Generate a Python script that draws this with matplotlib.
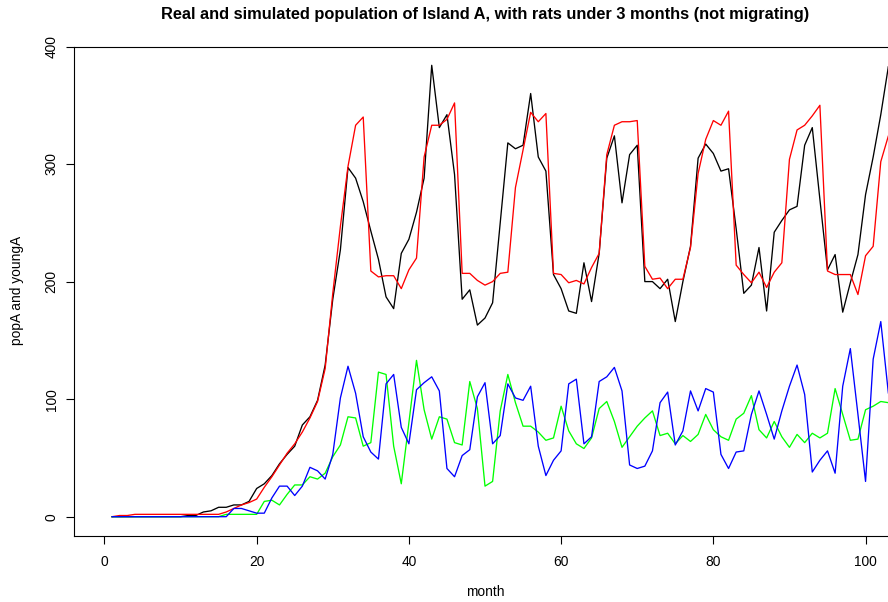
import matplotlib.pyplot as plt

plt.rcParams['font.family'] = ['Liberation Sans', 'DejaVu Sans']

# months 1..104
month = list(range(1, 105))

# real population (black)
popA = [0, 0, 0, 0, 0, 0, 0, 0, 0, 0,
        1, 1, 4, 5, 8, 8, 10, 10, 13, 24,
        28, 35, 45, 53, 60, 78, 85, 99, 129, 185,
        227, 297, 288, 268, 243, 219, 187, 177, 224, 236,
        259, 288, 384, 331, 342, 291, 185, 193, 163, 169,
        182, 250, 318, 313, 316, 360, 306, 294, 206, 194,
        175, 173, 216, 183, 224, 305, 324, 267, 308, 316,
        200, 200, 194, 202, 166, 200, 230, 305, 317, 309,
        294, 296, 245, 190, 197, 229, 175, 242, 252, 261,
        264, 316, 331, 270, 210, 223, 174, 199, 223, 274,
        306, 342, 383, 360]

# simulated population (red)
simA = [0, 1, 1, 2, 2, 2, 2, 2, 2, 2,
        2, 2, 2, 2, 2, 4, 7, 10, 12, 15,
        25, 34, 44, 54, 62, 72, 84, 98, 126, 190,
        247, 298, 333, 340, 209, 204, 205, 205, 194, 210,
        220, 306, 333, 333, 338, 352, 207, 207, 201, 197,
        200, 207, 208, 280, 312, 344, 336, 343, 207, 206,
        199, 201, 198, 212, 224, 308, 333, 336, 336, 337,
        213, 202, 203, 194, 202, 202, 229, 292, 321, 337,
        333, 345, 214, 206, 199, 208, 195, 208, 216, 304,
        329, 333, 341, 350, 209, 206, 206, 206, 189, 222,
        230, 302, 324, 330]

# young rats, real (blue)
youngA = [0, 0, 0, 0, 0, 0, 0, 0, 0, 0,
          0, 0, 0, 0, 0, 0, 7, 7, 5, 3,
          3, 16, 26, 26, 18, 26, 42, 39, 32, 53,
          101, 128, 105, 68, 55, 49, 113, 121, 76, 62,
          108, 114, 119, 107, 41, 34, 52, 57, 102, 114,
          62, 69, 113, 101, 99, 111, 60, 35, 48, 56,
          113, 117, 62, 68, 115, 119, 127, 107, 44, 41,
          43, 56, 97, 106, 61, 73, 107, 90, 109, 106,
          53, 41, 55, 56, 87, 107, 87, 66, 90, 111,
          129, 104, 38, 48, 56, 37, 111, 143, 87, 30,
          134, 166, 105, 95]

# young rats, simulated (green)
simYoungA = [0, 0, 0, 0, 0, 0, 0, 0, 0, 0,
             0, 0, 0, 0, 0, 2, 2, 2, 2, 2,
             13, 14, 10, 19, 27, 27, 34, 32, 37, 51,
             61, 85, 84, 60, 63, 123, 121, 60, 28, 80,
             133, 91, 66, 85, 83, 63, 61, 115, 92, 26,
             30, 90, 121, 97, 77, 77, 72, 65, 67, 94,
             73, 62, 58, 67, 92, 98, 81, 59, 68, 77,
             84, 90, 69, 71, 62, 69, 64, 70, 87, 74,
             68, 65, 83, 88, 103, 74, 67, 81, 68, 59,
             70, 63, 71, 67, 71, 109, 87, 65, 66, 91,
             94, 98, 97, 92]

W, H = 888, 602
fig = plt.figure(figsize=(W / 100, H / 100), dpi=100)
ax = fig.add_axes([74 / W, (H - 535.5) / H, (896 - 74) / W, (535.5 - 46.5) / H])

lw = 0.95
ax.plot(month, popA, color='black', lw=lw)
ax.plot(month, simA, color='#FF0000', lw=lw)
ax.plot(month, simYoungA, color='#00FF00', lw=lw)
ax.plot(month, youngA, color='#0000FF', lw=lw)

ax.set_xlim(-4, 104)
ax.set_ylim(-16, 400)
ax.set_xticks([0, 20, 40, 60, 80, 100])
ax.set_yticks([0, 100, 200, 300, 400])
ax.tick_params(length=6, width=0.8, labelsize=9.9)
ax.tick_params(axis='x', pad=8)
ax.tick_params(axis='y', pad=5)
for lab in ax.get_yticklabels():
    lab.set_rotation(90)
    lab.set_va('center')
for s in ax.spines.values():
    s.set_linewidth(0.8)

fig.text(485 / W, 1 - 14 / H,
         'Real and simulated population of Island A, with rats under 3 months (not migrating)',
         ha='center', va='center', fontsize=11.8, fontweight='bold')
fig.text(485 / W, 1 - 592 / H, 'month', ha='center', va='center', fontsize=9.9)
fig.text(17 / W, 1 - 290 / H, 'popA and youngA', ha='center', va='center',
         rotation=90, fontsize=9.9)

fig.savefig('out.png', dpi=100)
